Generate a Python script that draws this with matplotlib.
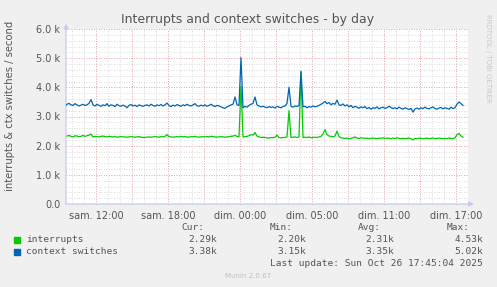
import matplotlib
matplotlib.use("Agg")
import matplotlib.pyplot as plt
import numpy as np

# ---- data (values in thousands per second, 10-minute steps) ----
t_start = -2.5833  # hours relative to sam. 12:00
step_h = 1 / 6

context_switches = [
    3.36, 3.42, 3.45, 3.40, 3.38, 3.44, 3.40, 3.36, 3.39, 3.42,
    3.38, 3.40, 3.45, 3.58, 3.40, 3.36, 3.42, 3.38, 3.35, 3.40,
    3.37, 3.44, 3.35, 3.40, 3.38, 3.34, 3.42, 3.37, 3.35, 3.39,
    3.36, 3.30, 3.38, 3.41, 3.36, 3.39, 3.34, 3.40, 3.37, 3.35,
    3.38, 3.40, 3.36, 3.42, 3.38, 3.35, 3.40, 3.37, 3.41, 3.36,
    3.40, 3.46, 3.38, 3.34, 3.39, 3.36, 3.41, 3.38, 3.35, 3.40,
    3.37, 3.42, 3.38, 3.36, 3.40, 3.44, 3.37, 3.35, 3.39, 3.36,
    3.40, 3.35, 3.38, 3.42, 3.37, 3.34, 3.38, 3.36, 3.33, 3.30,
    3.28, 3.33, 3.36, 3.40, 3.42, 3.67, 3.40, 3.38, 5.02, 3.30,
    3.35, 3.32, 3.38, 3.42, 3.45, 3.67, 3.40, 3.36, 3.33, 3.35,
    3.32, 3.30, 3.34, 3.31, 3.33, 3.29, 3.35, 3.32, 3.30, 3.34,
    3.36, 3.45, 4.00, 3.35, 3.32, 3.36, 3.34, 3.38, 4.55, 3.33,
    3.35, 3.30, 3.34, 3.32, 3.36, 3.33, 3.35, 3.38, 3.42, 3.46,
    3.52, 3.44, 3.48, 3.40, 3.45, 3.42, 3.56, 3.40, 3.38, 3.43,
    3.36, 3.40, 3.33, 3.38, 3.30, 3.35, 3.32, 3.28, 3.33, 3.30,
    3.34, 3.27, 3.31, 3.25, 3.30, 3.28, 3.33, 3.26, 3.30, 3.32,
    3.28, 3.30, 3.35, 3.31, 3.27, 3.30, 3.26, 3.32, 3.28, 3.25,
    3.30, 3.27, 3.24, 3.28, 3.15, 3.26, 3.29, 3.25, 3.30, 3.27,
    3.32, 3.28, 3.26, 3.30, 3.33, 3.27, 3.25, 3.29, 3.31, 3.26,
    3.30, 3.28, 3.25, 3.32, 3.27, 3.30, 3.42, 3.50, 3.44, 3.38,
]

interrupts = [
    2.30, 2.33, 2.35, 2.32, 2.30, 2.34, 2.33, 2.31, 2.32, 2.35,
    2.32, 2.34, 2.36, 2.40, 2.30, 2.32, 2.31, 2.30, 2.32, 2.33,
    2.31, 2.30, 2.32, 2.31, 2.30, 2.31, 2.29, 2.30, 2.31, 2.30,
    2.30, 2.29, 2.30, 2.31, 2.30, 2.29, 2.30, 2.31, 2.29, 2.28,
    2.28, 2.29, 2.30, 2.29, 2.30, 2.31, 2.30, 2.29, 2.31, 2.30,
    2.32, 2.38, 2.31, 2.30, 2.29, 2.30, 2.31, 2.30, 2.32, 2.30,
    2.31, 2.30, 2.29, 2.31, 2.30, 2.32, 2.30, 2.29, 2.30, 2.31,
    2.30, 2.31, 2.30, 2.32, 2.31, 2.30, 2.29, 2.30, 2.31, 2.30,
    2.29, 2.30, 2.31, 2.32, 2.33, 2.35, 2.32, 2.30, 4.04, 2.30,
    2.31, 2.32, 2.34, 2.38, 2.36, 2.45, 2.33, 2.30, 2.28, 2.29,
    2.28, 2.27, 2.26, 2.28, 2.27, 2.29, 2.36, 2.28, 2.27, 2.28,
    2.28, 2.30, 3.20, 2.28, 2.29, 2.30, 2.28, 2.30, 4.53, 2.28,
    2.29, 2.28, 2.30, 2.27, 2.28, 2.29, 2.28, 2.30, 2.32, 2.40,
    2.55, 2.38, 2.33, 2.32, 2.30, 2.33, 2.50, 2.31, 2.27, 2.26,
    2.25, 2.26, 2.24, 2.25, 2.27, 2.30, 2.26, 2.25, 2.27, 2.26,
    2.25, 2.26, 2.24, 2.25, 2.26, 2.25, 2.24, 2.26, 2.25, 2.27,
    2.25, 2.26, 2.25, 2.24, 2.26, 2.25, 2.27, 2.25, 2.24, 2.25,
    2.24, 2.25, 2.26, 2.24, 2.20, 2.25, 2.24, 2.26, 2.25, 2.24,
    2.25, 2.26, 2.24, 2.25, 2.26, 2.24, 2.25, 2.26, 2.25, 2.24,
    2.25, 2.24, 2.26, 2.25, 2.24, 2.27, 2.38, 2.42, 2.33, 2.29,
]

x_tick_hours = [0, 6, 12, 18, 24, 30]
x_tick_labels = ["sam. 12:00", "sam. 18:00", "dim. 00:00", "dim. 05:00", "dim. 11:00", "dim. 17:00"]
y_ticks = [0, 1, 2, 3, 4, 5, 6]
y_tick_labels = ["0.0", "1.0 k", "2.0 k", "3.0 k", "4.0 k", "5.0 k", "6.0 k"]

series_names = ["interrupts", "context switches"]
series_colors = ["#00CC00", "#0066B3"]
stat_cur = ["2.29k", "3.38k"]
stat_min = ["2.20k", "3.15k"]
stat_avg = ["2.31k", "3.35k"]
stat_max = ["4.53k", "5.02k"]

# ---- figure ----
W, H = 497, 287
fig = plt.figure(figsize=(W / 100, H / 100), dpi=100)
fig.patch.set_facecolor("#F0F0F0")

def fx(px):
    return px / W

def fy(py):
    return 1 - py / H

ax = fig.add_axes([fx(66), fy(204), fx(468) - fx(66), fy(29) - fy(204)])
ax.set_facecolor("#FFFFFF")

t = t_start + step_h * np.arange(len(interrupts))
ax.plot(t, interrupts, color=series_colors[0], lw=0.9, zorder=3)
ax.plot(t, context_switches, color=series_colors[1], lw=0.9, zorder=4)

ax.set_xlim(-2.5, 31.0)
ax.set_ylim(0, 6.0)

# grid
minor_col = "#CFCFCF"
major_col = "#EC9C9C"
for h in np.arange(-2, 31.01, 1):
    ax.axvline(h, color=minor_col, lw=0.6, ls=(0, (1, 2)), zorder=1)
for h in np.arange(-3, 31.01, 3):
    if h >= -2.5:
        ax.axvline(h, color=major_col, lw=0.6, ls=(0, (1, 2)), zorder=1.5)
for v in np.arange(0.2, 6.01, 0.2):
    ax.axhline(v, color=minor_col, lw=0.6, ls=(0, (1, 2)), zorder=1)
for v in y_ticks[1:]:
    ax.axhline(v, color=major_col, lw=0.6, ls=(0, (1, 2)), zorder=1.5)

for s in ax.spines.values():
    s.set_visible(False)
ax.set_xticks(x_tick_hours)
ax.set_xticklabels(x_tick_labels)
ax.set_yticks(y_ticks)
ax.set_yticklabels(y_tick_labels)
ax.tick_params(axis="both", length=0, labelsize=7, colors="#555555", pad=4)
ax.tick_params(axis="x", pad=5)

# axis lines with arrows
axis_col = "#C8C8F0"
ax.annotate("", xy=(1.015, 0), xytext=(0, 0), xycoords="axes fraction",
            arrowprops=dict(arrowstyle="-|>", color=axis_col, lw=0.9,
                            mutation_scale=7, shrinkA=0, shrinkB=0),
            annotation_clip=False)
ax.annotate("", xy=(0, 1.03), xytext=(0, 0), xycoords="axes fraction",
            arrowprops=dict(arrowstyle="-|>", color=axis_col, lw=0.9,
                            mutation_scale=7, shrinkA=0, shrinkB=0),
            annotation_clip=False)

# titles
fig.text(fx(248), fy(19), "Interrupts and context switches - by day",
         ha="center", va="center", fontsize=9, color="#555555")
fig.text(fx(10), fy(106), "interrupts & ctx switches / second", rotation=90,
         ha="center", va="center", fontsize=7.2, color="#555555")
fig.text(fx(488), fy(58), "RRDTOOL / TOBI OETIKER", rotation=270,
         ha="center", va="center", fontsize=5, color="#C8C8C8")

# legend
mono = "DejaVu Sans Mono"
lc = "#555555"
fs = 6.8
fig.text(fx(204), fy(228), "Cur:", ha="right", va="center", family=mono, fontsize=fs, color=lc)
fig.text(fx(293), fy(228), "Min:", ha="right", va="center", family=mono, fontsize=fs, color=lc)
fig.text(fx(381), fy(228), "Avg:", ha="right", va="center", family=mono, fontsize=fs, color=lc)
fig.text(fx(470), fy(228), "Max:", ha="right", va="center", family=mono, fontsize=fs, color=lc)
rows_y = [240, 252]
for i in range(2):
    y = rows_y[i]
    fig.patches.append(plt.Rectangle((fx(14), fy(y + 3)), fx(6), 6 / H,
                                     transform=fig.transFigure, color=series_colors[i]))
    fig.text(fx(26), fy(y), series_names[i], ha="left", va="center", family=mono, fontsize=fs, color=lc)
    fig.text(fx(217), fy(y), stat_cur[i], ha="right", va="center", family=mono, fontsize=fs, color=lc)
    fig.text(fx(306), fy(y), stat_min[i], ha="right", va="center", family=mono, fontsize=fs, color=lc)
    fig.text(fx(394), fy(y), stat_avg[i], ha="right", va="center", family=mono, fontsize=fs, color=lc)
    fig.text(fx(483), fy(y), stat_max[i], ha="right", va="center", family=mono, fontsize=fs, color=lc)
fig.text(fx(483), fy(264), "Last update: Sun Oct 26 17:45:04 2025", ha="right", va="center",
         family=mono, fontsize=fs, color=lc)
fig.text(fx(248), fy(276), "Munin 2.0.67", ha="center", va="center", fontsize=5, color="#C0C0C0")

fig.savefig("out.png", dpi=100, facecolor=fig.get_facecolor())
